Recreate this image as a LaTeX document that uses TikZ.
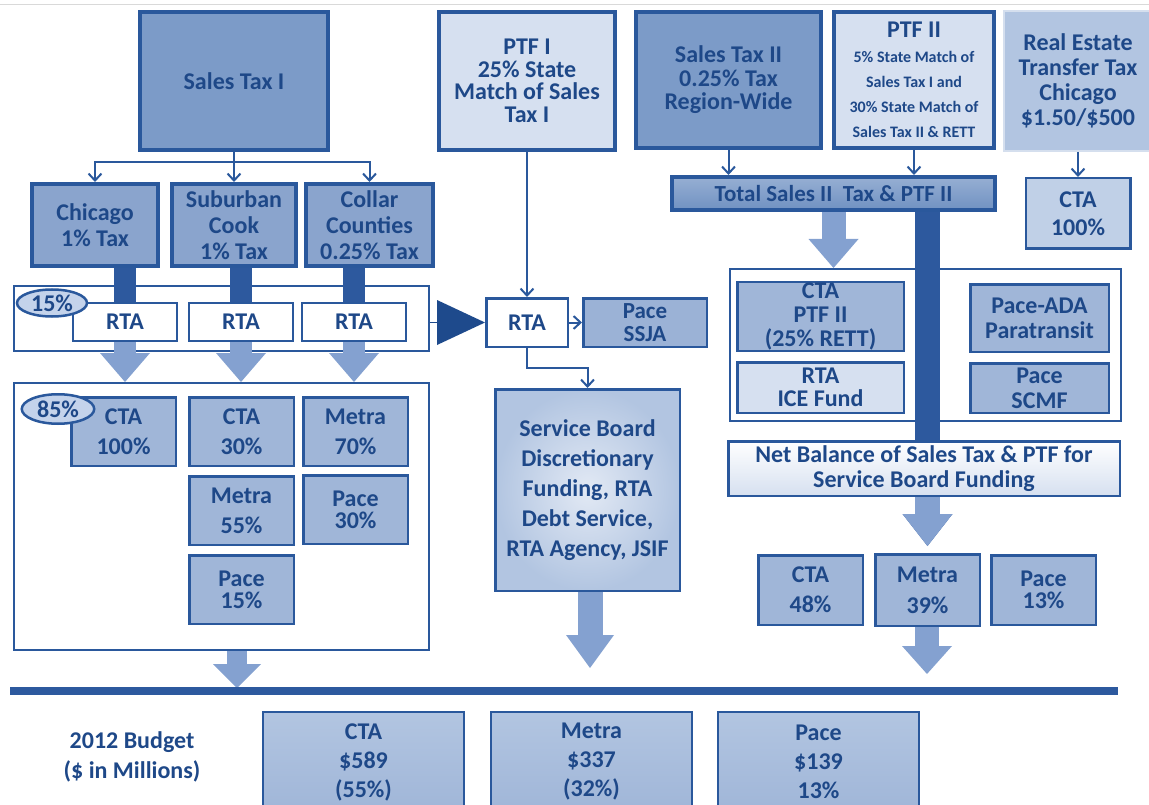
\documentclass[tikz,border=0pt]{standalone}
\usepackage{fontspec}
\setmainfont{Carlito}
\usetikzlibrary{positioning, arrows.meta, shapes.geometric}

\definecolor{edgeblue}{RGB}{42,88,156}
\definecolor{inkblue}{RGB}{30,72,136}
\definecolor{deepfill}{RGB}{124,155,200}
\definecolor{taxfill}{RGB}{138,164,205}
\definecolor{midfill}{RGB}{160,182,216}
\definecolor{softfill}{RGB}{178,197,225}
\definecolor{paleblue}{RGB}{214,224,240}
\definecolor{tagfill}{RGB}{196,211,235}
\definecolor{barblue}{RGB}{45,89,158}
\definecolor{arrowblue}{RGB}{132,161,208}
\definecolor{pointblue}{RGB}{30,74,140}

\newcommand{\sizedfont}[2]{\fontsize{#1}{#2}\selectfont\bfseries}

\tikzset{
box/.style={draw=edgeblue, line width=2.5pt, text=inkblue, align=center, inner sep=0pt, font=\sizedfont{24}{26}}, % framed box with centred text
heavy/.style={box, line width=4pt}, % thick frame of the source boxes
rtabox/.style={box, fill=white, line width=2pt, minimum width=104pt, minimum height=38pt}, % the white RTA boxes
cell/.style={box, fill=midfill, minimum width=104.5pt, minimum height=68.5pt, font=\sizedfont{24}{30}}, % operator share boxes
frame/.style={draw=edgeblue, line width=2pt, fill=white, inner sep=0pt}, % group containers
tag/.style={ellipse, draw=edgeblue, line width=2.5pt, fill=tagfill, text=inkblue, inner sep=0pt, font=\sizedfont{24}{26}}, % percentage ovals
budget/.style={box, line width=2pt, top color=softfill, bottom color=midfill, minimum width=201pt, minimum height=100pt, font=\sizedfont{24}{29}},
link/.style={draw=edgeblue, line width=2pt, -{Straight Barb[length=7pt,width=13pt]}}, % thin flow lines
fat/.style={draw=arrowblue, line width=22pt, -{Triangle[length=29pt,width=50pt,line width=0pt]}}, % block arrows
bar/.style={draw=barblue, line width=22pt}, % dark feeder bars
rule/.style={draw=barblue, line width=8pt}, % budget line
}

\begin{document}
\begin{tikzpicture}[x=1pt, y=-1pt]
\useasboundingbox (0,0) rectangle (1149,805);
\clip (0,0) rectangle (1149,805);
\draw[gray!30, line width=1pt] (0,5) -- (1149,5);

% sources
\node[heavy, fill=deepfill, minimum width=188pt, minimum height=138pt] (st1) at (234,81) {Sales Tax I};
\node[heavy, fill=paleblue, minimum width=176pt, minimum height=138pt, font=\sizedfont{24}{22.5}] (ptf1) at (527,81) {PTF I\\25\% State\\Match of Sales\\Tax I};
\node[heavy, fill=deepfill, minimum width=185pt, minimum height=136pt, font=\sizedfont{24}{23.5}] (st2) at (728.5,80) {Sales Tax II\\0.25\% Tax\\Region-Wide};
\node[heavy, fill=paleblue, minimum width=160pt, minimum height=136pt, font=\sizedfont{16}{25}] (ptf2) at (914,80) {{\sizedfont{24}{25}PTF II}\\5\% State Match of\\Sales Tax I and\\30\% State Match of\\Sales Tax II \& RETT};
\node[box, fill=softfill, draw=softfill!55!white, line width=2pt, minimum width=148pt, minimum height=140pt, font=\sizedfont{24}{25}] (rett) at (1078,81) {Real Estate\\Transfer Tax\\Chicago\\\$1.50/\$500};

% Sales Tax I split
\node[heavy, fill=taxfill, minimum width=126pt, minimum height=82pt] (chi) at (95,225) {Chicago\\1\% Tax};
\node[heavy, fill=taxfill, minimum width=124pt, minimum height=82pt, right=10pt of chi] (sub) {Suburban\\Cook\\1\% Tax};
\node[heavy, fill=taxfill, minimum width=127pt, minimum height=82pt, right=6pt of sub] (col) {Collar\\Counties\\0.25\% Tax};

\draw[link] (st1.south) -- (sub.north);
\draw[link] (st1.south) ++(0,10) -| (chi.north);
\draw[link] (st1.south) ++(0,10) -| (col.north);

% 15% to RTA
\node[frame, minimum width=415pt, minimum height=65pt] (c15) at (221.5,318.5) {};
\node[rtabox] (r1) at (125,322) {RTA};
\node[rtabox, right=10pt of r1] (r2) {RTA};
\node[rtabox, right=7pt of r2] (r3) {RTA};
\draw[bar] (r1.north |- chi.south) -- (r1.north);
\draw[bar] (r2.north |- sub.south) -- (r2.north);
\draw[bar] (r3.north |- col.south) -- (r3.north);
\node[tag, minimum width=70pt, minimum height=27pt] (p15) at (52,303) {15\%};

% 85% to the service boards
\node[frame, minimum width=415pt, minimum height=267pt] (c85) at (221.5,516.5) {};
\draw[fat] (r1.south) -- (r1.south |- c85.north);
\draw[fat] (r2.south) -- (r2.south |- c85.north);
\draw[fat] (r3.south) -- (r3.south |- c85.north);
\node[cell] (a1) at (123.5,431.5) {CTA\\100\%};
\node[cell, right=11pt of a1] (a2) {CTA\\30\%};
\node[cell, right=7pt of a2] (a3) {Metra\\70\%};
\node[cell, below=8pt of a2] (b2) {Metra\\55\%};
\node[cell, below=7pt of a3, font=\sizedfont{24}{22}] (b3) {Pace\\30\%};
\node[cell, below=8pt of b2, font=\sizedfont{24}{22}] (c2) {Pace\\15\%};
\node[tag, minimum width=72.5pt, minimum height=29.5pt] (p85) at (58,409) {85\%};

% PTF I
\node[box, fill=white, minimum width=81.5pt, minimum height=48.5pt] (rtam) at (527,322.5) {RTA};
\node[box, fill=midfill!85!deepfill, minimum width=123.5pt, minimum height=48.5pt, right=13pt of rtam, font=\sizedfont{23}{23}] (ssja) {Pace\\SSJA};
\node[box, inner color=paleblue!70!white, outer color=softfill, minimum width=184.5pt, minimum height=201.5pt, font=\sizedfont{24}{30}] (sbd) at (587.5,490) {Service Board\\Discretionary\\Funding, RTA\\Debt Service,\\RTA Agency, JSIF};
\draw[link] (ptf1.south) -- (rtam.north);
\draw[link] (rtam.east) -- (ssja.west);
\draw[link] (rtam.south) -- ++(0,20) -| (sbd.north);
\draw[draw=pointblue, fill=pointblue, line width=0.5pt, -{Triangle[length=48pt,width=45pt,line width=0pt]}] (c15.east |- rtam.west) -- (rtam.west);

% Sales Tax II, PTF II and RETT
\node[heavy, top color=deepfill!80!white, bottom color=deepfill!85!barblue, minimum width=323pt, minimum height=33pt, font=\sizedfont{23}{26}] (tot) at (833.5,193.5) {Total Sales II\ \ Tax \& PTF II};
\node[box, fill=softfill!60!paleblue, minimum width=104.5pt, minimum height=70.5pt, font=\sizedfont{24}{28}] (ctar) at (1078,213.5) {CTA\\100\%};
\draw[link] (st2.south) -- (st2.south |- tot.north);
\draw[link] (ptf2.south) -- (ptf2.south |- tot.north);
\draw[link] (rett.south) -- (ctar.north);

\node[frame, minimum width=391pt, minimum height=152pt] (cR) at (925.5,345) {};
\node[box, fill=midfill, minimum width=166.5pt, minimum height=68.5pt, font=\sizedfont{24}{24}] (ptfc) at (820.5,316.5) {CTA\\PTF II\\(25\% RETT)};
\node[box, fill=paleblue, minimum width=166.5pt, minimum height=50.5pt, below=9pt of ptfc, font=\sizedfont{24}{23}] (ice) {RTA\\ICE Fund};
\node[box, fill=midfill, minimum width=138.5pt, minimum height=67.5pt, font=\sizedfont{24}{25}] (ada) at (1039.5,318) {Pace-ADA\\Paratransit};
\node[box, fill=midfill, minimum width=138.5pt, minimum height=49.5pt, below=9pt of ada, font=\sizedfont{24}{25}] (scmf) {Pace\\SCMF};

\node[cell, minimum height=69.5pt] (n48) at (810.5,590) {CTA\\48\%};
\node[cell, minimum height=71.5pt, right=10pt of n48, font=\sizedfont{24}{31}] (n39) {Metra\\39\%};
\node[cell, minimum height=69.5pt, right=9pt of n39, font=\sizedfont{24}{22}] (n13) {Pace\\13\%};

\draw[bar, line width=25pt, -{Triangle[length=32pt,width=50pt,line width=0pt]}, shorten >=7pt] (tot.south -| n39.north) -- (n39.north);
\node[box, top color=white, bottom color=paleblue, minimum width=391.5pt, minimum height=54.5pt, font=\sizedfont{24}{25}] (net) at (924,468.5) {Net Balance of Sales Tax \& PTF for\\Service Board Funding};
\draw[fat, line width=25pt, -{Triangle[length=32pt,width=50pt,line width=0pt]}, shorten >=7pt] (net.south -| n39.north) -- (n39.north);
\draw[fat, line width=24pt] (tot.south) -- (tot.south |- cR.north);

% 2012 budget
\coordinate (lineL) at (10,691);
\coordinate (lineR) at (1118,691);
\coordinate (in1) at (237,688);
\coordinate (in2) at (590,668);
\coordinate (in3) at (927,674);
\draw[fat, line width=20pt, -{Triangle[length=24pt,width=48pt,line width=0pt]}] (c85.south -| in1) -- (in1);
\draw[fat, line width=25pt, -{Triangle[length=33pt,width=48pt,line width=0pt]}] (sbd.south -| in2) -- (in2);
\draw[fat, line width=24pt, -{Triangle[length=28pt,width=50pt,line width=0pt]}] (n39.south -| in3) -- (in3);
\draw[rule] (lineL) -- (lineR);

\node[text=inkblue, align=center, font=\sizedfont{24}{30}] (year) at (132,757) {2012 Budget\\(\$ in Millions)};
\node[budget] (bcta) at (363.5,762) {CTA\\\$589\\(55\%)};
\node[budget, right=25pt of bcta] (bmet) {Metra\\\$337\\(32\%)};
\node[budget, right=24pt of bmet] (bpace) {Pace\\\$139\\13\%};

\end{tikzpicture}
\end{document}
